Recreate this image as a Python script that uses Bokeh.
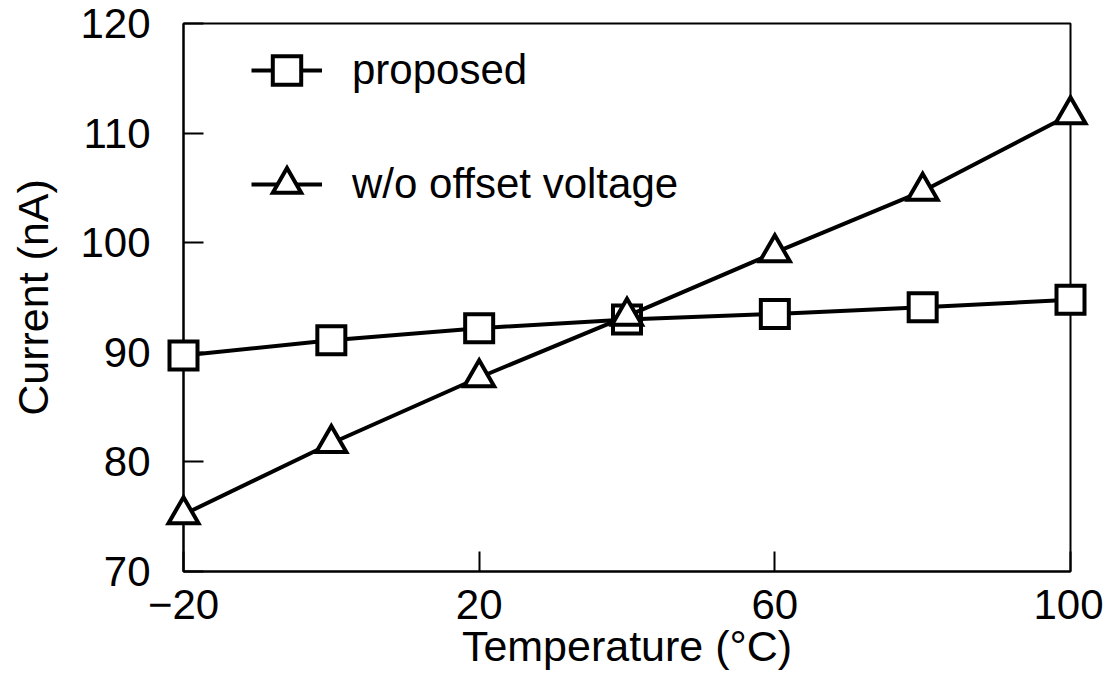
from bokeh.plotting import figure
from bokeh.models import Range1d, FixedTicker, Legend, LegendItem
from bokeh.embed import file_html
from bokeh.resources import INLINE

# ---- data ----
temperature = [-20, 0, 20, 40, 60, 80, 100]
proposed = [89.7, 91.1, 92.2, 93.0, 93.5, 94.1, 94.8]
without_offset = [75.2, 81.7, 87.7, 93.3, 99.1, 104.7, 111.7]

x_ticks = [-20, 20, 60, 100]
x_tick_labels = ["\u221220", "20", "60", "100"]
y_ticks = [70, 80, 90, 100, 110, 120]
y_tick_labels = ["70", "80", "90", "100", "110", "120"]

series_names = ["proposed", "w/o offset voltage"]

FONT = "Liberation Sans"

p = figure(width=1103, height=675, output_backend="svg", toolbar_location=None,
           x_range=Range1d(-20, 100), y_range=Range1d(70, 120),
           min_border_left=183, min_border_right=33,
           min_border_top=23, min_border_bottom=104)

p.grid.visible = False
p.outline_line_color = "black"
p.outline_line_width = 2
p.background_fill_color = "white"
p.border_fill_color = "white"

p.xaxis.ticker = FixedTicker(ticks=x_ticks)
p.yaxis.ticker = FixedTicker(ticks=y_ticks)
p.xaxis.major_label_overrides = {t: l for t, l in zip(x_ticks, x_tick_labels)}
p.yaxis.major_label_overrides = {t: l for t, l in zip(y_ticks, y_tick_labels)}
p.xaxis.axis_label = "Temperature (\u00b0C)"
p.yaxis.axis_label = "Current (nA)"

for ax in (p.xaxis[0], p.yaxis[0]):
    ax.axis_line_width = 2
    ax.axis_line_color = "black"
    ax.major_tick_line_width = 2
    ax.major_tick_line_color = "black"
    ax.major_tick_in = 20
    ax.major_tick_out = 0
    ax.minor_tick_line_color = None
    ax.major_label_text_font = FONT
    ax.major_label_text_font_size = "42px"
    ax.major_label_text_color = "black"
    ax.axis_label_text_font = FONT
    ax.axis_label_text_font_size = "43px"
    ax.axis_label_text_font_style = "normal"
    ax.axis_label_text_color = "black"

p.xaxis.major_label_standoff = 18
p.xaxis.axis_label_standoff = 0
p.yaxis.major_label_standoff = 33
p.yaxis.axis_label_standoff = 20

l1 = p.line(temperature, proposed, line_color="black", line_width=4, level="annotation")
m1 = p.scatter(temperature, proposed, marker="square", size=28,
               fill_color="white", line_color="black", line_width=4,
               line_join="miter", level="annotation")
l2 = p.line(temperature, without_offset, line_color="black", line_width=4, level="annotation")
m2 = p.scatter(temperature, without_offset, marker="triangle", size=30,
               fill_color="white", line_color="black", line_width=4,
               line_join="miter", level="annotation")

legend = Legend(items=[LegendItem(label=series_names[0], renderers=[l1, m1]),
                       LegendItem(label=series_names[1], renderers=[l2, m2])],
                location=(68, 347), orientation="vertical",
                glyph_width=71, glyph_height=80, spacing=34,
                padding=0, margin=0, label_standoff=30,
                label_text_font=FONT, label_text_font_size="42px",
                label_text_color="black",
                border_line_color=None, background_fill_alpha=0)
p.add_layout(legend)

open("out.html", "w").write(file_html(p, INLINE))
